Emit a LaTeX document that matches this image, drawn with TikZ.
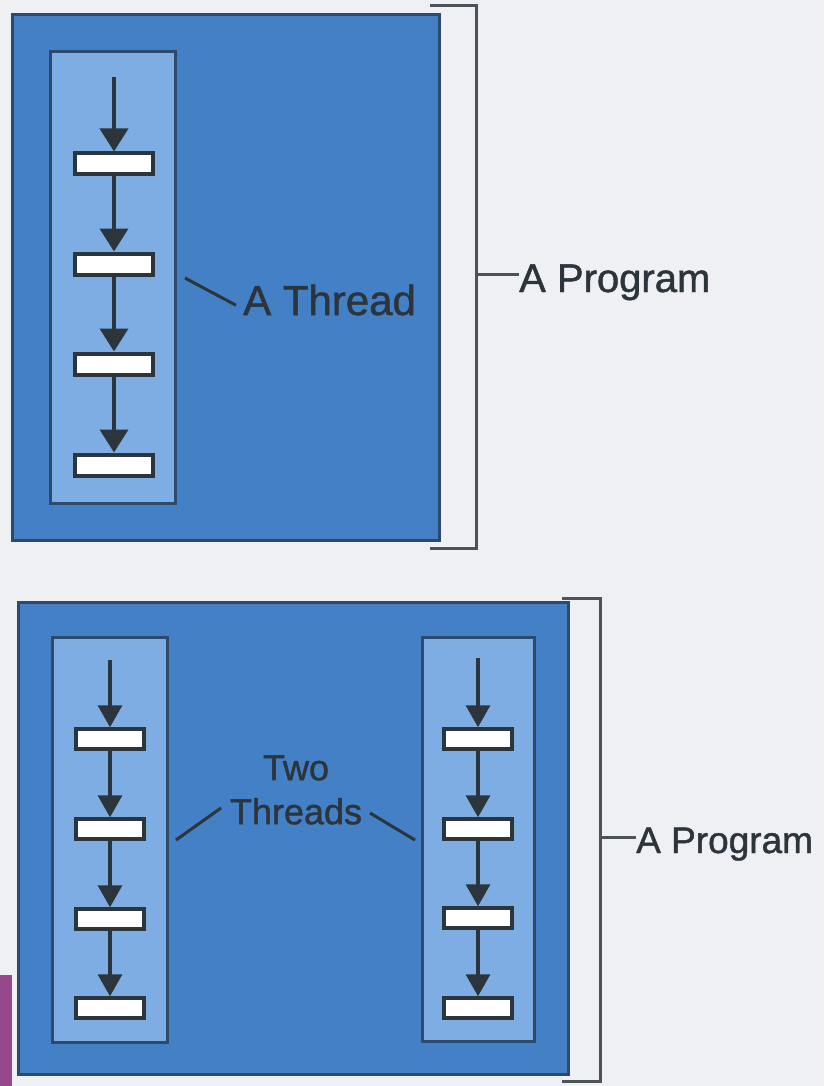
\documentclass[tikz,border=0pt]{standalone}
\usepackage{fontspec}
\setmainfont{Liberation Sans}
\newfontfamily\lblfont{Liberation Sans}[FakeBold=1.2]
\usetikzlibrary{arrows.meta}

\definecolor{paper}{RGB}{238,240,244}
\definecolor{progblue}{RGB}{68,128,198}
\definecolor{threadblue}{RGB}{126,173,228}
\definecolor{edgeblue}{RGB}{46,74,106}
\definecolor{inkgray}{RGB}{44,52,60}
\definecolor{tabpurple}{RGB}{150,72,140}

\begin{document}
\begin{tikzpicture}[x=1pt, y=-1pt,
        program/.style={fill=progblue, draw=edgeblue, line width=3pt},
        thread/.style={fill=threadblue, draw=edgeblue, line width=3pt},
        stepbox/.style={rectangle, draw=inkgray, fill=white, line width=4pt, minimum width=78pt, minimum height=21pt, inner sep=0pt},
        smallstep/.style={stepbox, minimum width=68pt, minimum height=20pt, line width=3.5pt},
        flow/.style={draw=inkgray, line width=4pt, -{Triangle[width=28pt,length=23pt]}},
        smallflow/.style={flow, line width=3.5pt, -{Triangle[width=24pt,length=22pt]}},
        brace/.style={draw=inkgray!85, line width=3pt},
        pointer/.style={draw=inkgray, line width=3pt},
        lbl/.style={text=inkgray, inner sep=0pt}
    ]
    \fill[paper] (0,0) rectangle (824,1086);
    \useasboundingbox (0,0) rectangle (824,1086);
    \fill[tabpurple] (0,975) rectangle (12,1086);

    % one thread in a program
    \draw[program] (12,15) rectangle (439,540);
    \draw[thread] (50,52) rectangle (175,503);
    \coordinate (s0) at (114,77);
    \node[stepbox] (s1) at (114,164) {};
    \node[stepbox] (s2) at (114,264) {};
    \node[stepbox] (s3) at (114,364) {};
    \node[stepbox] (s4) at (114,465) {};
    \draw[flow] (s0) -- (s1.north);
    \draw[flow] (s1.south) -- (s2.north);
    \draw[flow] (s2.south) -- (s3.north);
    \draw[flow] (s3.south) -- (s4.north);

    \node[lbl, anchor=west, font=\lblfont\fontsize{42}{44}\selectfont] (onethr) at (243,300) {A Thread};
    \coordinate (p1) at (185,278);
    \draw[pointer, shorten >=8pt] (p1) -- ([yshift=-9pt]onethr.west);

    \coordinate (b1) at (430,6);
    \coordinate (b2) at (476,6);
    \coordinate (b3) at (476,548);
    \coordinate (b4) at (430,548);
    \coordinate (bm) at (476,274);
    \draw[brace] (b1) -- (b2) -- (b3) -- (b4);
    \node[lbl, anchor=base west, font=\lblfont\fontsize{40}{44}\selectfont] (prog1) at (519,292) {A Program};
    \draw[brace] (bm) -- (prog1.west |- bm);

    % two threads in a program
    \draw[program] (18,602) rectangle (568,1074);
    \draw[thread] (52,637) rectangle (167,1042);
    \draw[thread] (422,637) rectangle (534,1041);

    \coordinate (l0) at (110,660);
    \node[smallstep] (l1) at (110,739) {};
    \node[smallstep] (l2) at (110,829) {};
    \node[smallstep] (l3) at (110,919) {};
    \node[smallstep] (l4) at (110,1008) {};
    \draw[smallflow] (l0) -- (l1.north);
    \draw[smallflow] (l1.south) -- (l2.north);
    \draw[smallflow] (l2.south) -- (l3.north);
    \draw[smallflow] (l3.south) -- (l4.north);

    \coordinate (r0) at (478,658);
    \node[smallstep] (r1) at (478,739) {};
    \node[smallstep] (r2) at (478,829) {};
    \node[smallstep] (r3) at (478,918) {};
    \node[smallstep] (r4) at (478,1008) {};
    \draw[smallflow] (r0) -- (r1.north);
    \draw[smallflow] (r1.south) -- (r2.north);
    \draw[smallflow] (r2.south) -- (r3.north);
    \draw[smallflow] (r3.south) -- (r4.north);

    \node[lbl, align=center, font=\lblfont\fontsize{36}{44}\selectfont] (twothr) at (296,790) {Two\\Threads};
    \coordinate (p2) at (176,840);
    \coordinate (p3) at (415,840);
    \draw[pointer] (p2) -- (221,808);
    \draw[pointer] (370,813) -- (p3);

    \coordinate (c1) at (562,598);
    \coordinate (c2) at (600,598);
    \coordinate (c3) at (600,1081);
    \coordinate (c4) at (562,1081);
    \coordinate (cm) at (600,837);
    \draw[brace] (c1) -- (c2) -- (c3) -- (c4);
    \node[lbl, anchor=base west, font=\lblfont\fontsize{37}{44}\selectfont] (prog2) at (636,853) {A Program};
    \draw[brace] (cm) -- (prog2.west |- cm);
\end{tikzpicture}
\end{document}
